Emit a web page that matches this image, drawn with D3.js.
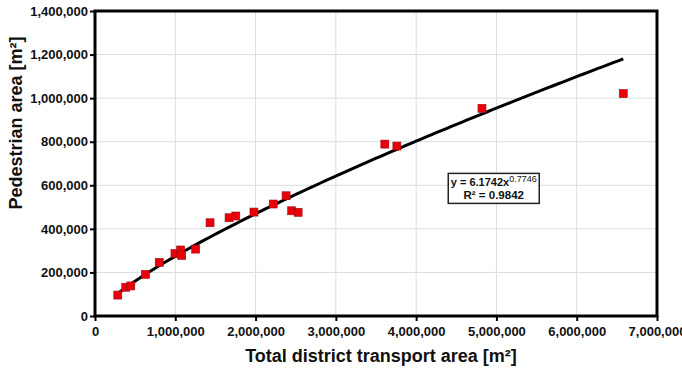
<!DOCTYPE html>
<html>
<head>
<meta charset="utf-8">
<script src="https://cdn.jsdelivr.net/npm/d3@7"></script>
<style>
  body { margin: 0; background: #fff; }
  svg { display: block; }
  text { font-family: "Liberation Sans", Arial, sans-serif; font-weight: bold; }
</style>
</head>
<body>
<svg id="chart" width="682" height="370"></svg>
<script>
// district transport area vs pedestrian area (m²)
const transportArea = [284000, 383000, 446000, 629000, 800000, 996000, 1067000, 1080000,
    1254000, 1433000, 1670000, 1754000, 1980000, 2220000, 2380000, 2450000, 2530000,
    3610000, 3760000, 4820000, 6580000];
const pedestrianArea = [96000, 132000, 138000, 191000, 246000, 287000, 303000, 278000,
    307000, 428000, 451000, 459000, 477000, 514000, 552000, 483000, 476000,
    789000, 780000, 953000, 1021000];

// power trend y = a * x^b
const fitA = 6.1742;
const fitB = 0.7746;
const fitR2 = 0.9842;

const xTicks = [0, 1000000, 2000000, 3000000, 4000000, 5000000, 6000000, 7000000];
const yTicks = [0, 200000, 400000, 600000, 800000, 1000000, 1200000, 1400000];

const svg = d3.select("#chart");
const margin = {top: 11, right: 25, bottom: 54, left: 95},
    width = +svg.attr("width") - margin.left - margin.right,
    height = +svg.attr("height") - margin.top - margin.bottom;
const g = svg.append("g").attr("transform", "translate(" + margin.left + "," + margin.top + ")");

let x = d3.scaleLinear().domain([0, 7000000]).range([0, width]);
let y = d3.scaleLinear().domain([0, 1400000]).range([height, 0]);
const fmt = d3.format(",");

// grid
g.append("g").selectAll("line")
    .data(xTicks.slice(1, -1)).join("line")
    .attr("x1", d => x(d)).attr("x2", d => x(d))
    .attr("y1", 0).attr("y2", height)
    .attr("stroke", "#dcdcdc").attr("stroke-width", 1);
g.append("g").selectAll("line")
    .data(yTicks.slice(1, -1)).join("line")
    .attr("y1", d => y(d)).attr("y2", d => y(d))
    .attr("x1", 0).attr("x2", width)
    .attr("stroke", "#dcdcdc").attr("stroke-width", 1);

// axes
let xAxis = g.append("g")
    .attr("transform", "translate(0," + height + ")")
    .call(d3.axisBottom(x).tickValues(xTicks).tickFormat(fmt).tickSize(5).tickSizeOuter(0));
let yAxis = g.append("g")
    .call(d3.axisLeft(y).tickValues(yTicks).tickFormat(fmt).tickSize(5).tickSizeOuter(0));
[xAxis, yAxis].forEach(ax => {
    ax.select(".domain").remove();
    ax.selectAll("line").attr("stroke", "#000").attr("stroke-width", 2);
    ax.selectAll("text").attr("fill", "#111").style("font-size", "13px")
        .style("font-family", "'Liberation Sans', Arial, sans-serif").style("font-weight", "bold");
});
xAxis.selectAll("text").attr("dy", "0.95em");
yAxis.selectAll("text").attr("x", -7);

// frame
g.append("rect")
    .attr("width", width).attr("height", height)
    .attr("fill", "none").attr("stroke", "#000").attr("stroke-width", 3);

// trend line across the data range
const xMin = d3.min(transportArea), xMax = d3.max(transportArea);
const trend = d3.range(0, 101).map(i => {
    let xv = xMin + (xMax - xMin) * i / 100;
    return [xv, fitA * Math.pow(xv, fitB)];
});
g.append("path")
    .datum(trend)
    .attr("fill", "none")
    .attr("stroke", "#000")
    .attr("stroke-width", 3)
    .attr("stroke-linejoin", "round")
    .attr("d", d3.line().x(d => x(d[0])).y(d => y(d[1])));

// points
const s = 8;
g.append("g").selectAll("rect")
    .data(transportArea.map((v, i) => [v, pedestrianArea[i]]))
    .join("rect")
    .attr("x", d => x(d[0]) - s / 2)
    .attr("y", d => y(d[1]) - s / 2)
    .attr("width", s).attr("height", s)
    .attr("fill", "#e8000b")
    .attr("stroke", "#9a1010")
    .attr("stroke-width", 0.6);

// equation box
const box = g.append("g").attr("transform", "translate(" + (x(4400000)) + "," + (y(650000) - 1) + ")");
box.append("rect")
    .attr("x", 0).attr("y", 0).attr("width", 91).attr("height", 30)
    .attr("fill", "#fff").attr("stroke", "#222").attr("stroke-width", 1.5);
let eq = box.append("text").attr("x", 45.5).attr("y", 13).attr("text-anchor", "middle")
    .style("font-size", "11px").attr("fill", "#111");
eq.append("tspan").text("y = " + fitA + "x");
eq.append("tspan").text(fitB).style("font-size", "9px").style("font-weight", "normal").attr("dy", -4);
box.append("text").attr("x", 45.5).attr("y", 26).attr("text-anchor", "middle")
    .style("font-size", "11.5px").attr("fill", "#111")
    .text("R² = " + fitR2);

// axis titles
svg.append("text")
    .attr("x", margin.left + width / 2 + 5).attr("y", 362)
    .attr("text-anchor", "middle")
    .style("font-size", "18px")
    .style("font-family", "'Liberation Sans Narrow', 'Liberation Sans', Arial, sans-serif")
    .attr("fill", "#111")
    .text("Total district transport area [m²]");
svg.append("text")
    .attr("transform", "translate(22," + (margin.top + 112) + ") rotate(-90)")
    .attr("text-anchor", "middle")
    .style("font-size", "18px")
    .style("font-family", "'Liberation Sans Narrow', 'Liberation Sans', Arial, sans-serif")
    .attr("fill", "#111")
    .text("Pedestrian area [m²]");
</script>
</body>
</html>
